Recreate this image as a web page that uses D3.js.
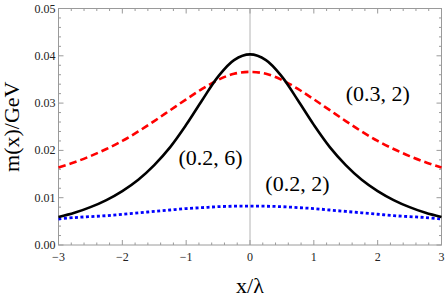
<!DOCTYPE html>
<html>
<head>
<meta charset="utf-8">
<script src="https://cdn.jsdelivr.net/npm/d3@7"></script>
<style>
body { margin: 0; background: #fff; }
</style>
</head>
<body>
<svg id="chart"></svg>
<script>
// x/lambda sample points
var xs = [-3, -2.75, -2.5, -2.25, -2, -1.75, -1.5, -1.25, -1, -0.75, -0.5, -0.25, 0,
  0.25, 0.5, 0.75, 1, 1.25, 1.5, 1.75, 2, 2.25, 2.5, 2.75, 3];

// (0.2, 6) black solid
var mBlack = [0.0059, 0.0068, 0.0080, 0.0095, 0.0114, 0.0138, 0.0169, 0.0207, 0.0254, 0.0306, 0.0356, 0.0391, 0.0403,
  0.0391, 0.0356, 0.0306, 0.0254, 0.0207, 0.0169, 0.0138, 0.0114, 0.0095, 0.0080, 0.0068, 0.0059];
// (0.3, 2) red dashed
var mRed = [0.0164, 0.0175, 0.0188, 0.0203, 0.0220, 0.0240, 0.0262, 0.0285, 0.0308, 0.0330, 0.0349, 0.0362, 0.0366,
  0.0362, 0.0349, 0.0330, 0.0308, 0.0285, 0.0262, 0.0240, 0.0220, 0.0203, 0.0188, 0.0175, 0.0164];
// (0.2, 2) blue dotted
var mBlue = [0.0055, 0.0058, 0.0060, 0.0062, 0.0065, 0.0068, 0.0071, 0.0074, 0.0077, 0.0079, 0.0081, 0.0082, 0.0082,
  0.0082, 0.0081, 0.0079, 0.0077, 0.0074, 0.0071, 0.0068, 0.0065, 0.0062, 0.0060, 0.0058, 0.0055];

var xTicks = [-3, -2, -1, 0, 1, 2, 3],
yTicks = [0, 0.01, 0.02, 0.03, 0.04, 0.05],
yTickLabels = ["0.00", "0.01", "0.02", "0.03", "0.04", "0.05"];

var labels = [
  {text: "(0.3, 2)", x: 1.5, y: 0.0304},
  {text: "(0.2, 6)", x: -1.12, y: 0.0170},
  {text: "(0.2, 2)", x: 0.24, y: 0.0115}
];

var width = 447, height = 297,
margin = {top: 8.5, right: 5.5, bottom: 52, left: 58.5},
frameColor = "#9a9a9a",
serif = "'Liberation Serif', 'DejaVu Serif', serif";

var svg = d3.select("#chart")
.attr("width", width)
.attr("height", height)
.attr("font-family", serif);

var x = d3.scaleLinear()
.domain([-3, 3])
.range([margin.left, width - margin.right]);

var y = d3.scaleLinear()
.domain([0, 0.05])
.range([height - margin.bottom, margin.top]);

// zero line
svg.append("line")
.attr("x1", x(0)).attr("x2", x(0))
.attr("y1", y(0)).attr("y2", y(0.05))
.attr("stroke", "#b4b4b4")
.attr("stroke-width", 1);

// frame ticks, all inward
var xMinor = d3.range(-3, 3.001, 0.2),
yMinor = d3.range(0, 0.05001, 0.002);

function tickLen(v, step) {
  return Math.abs(v / step - Math.round(v / step)) < 1e-6 ? 5 : 2.5;
}

var tg = svg.append("g")
.attr("stroke", frameColor)
.attr("stroke-width", 1);

xMinor.forEach(function (v) {
  var l = tickLen(v, 1);
  tg.append("line").attr("x1", x(v)).attr("x2", x(v)).attr("y1", y(0)).attr("y2", y(0) - l);
  tg.append("line").attr("x1", x(v)).attr("x2", x(v)).attr("y1", y(0.05)).attr("y2", y(0.05) + l);
});
yMinor.forEach(function (v) {
  var l = tickLen(v, 0.01);
  tg.append("line").attr("x1", x(-3)).attr("x2", x(-3) + l).attr("y1", y(v)).attr("y2", y(v));
  tg.append("line").attr("x1", x(3)).attr("x2", x(3) - l).attr("y1", y(v)).attr("y2", y(v));
});

svg.append("rect")
.attr("x", x(-3))
.attr("y", y(0.05))
.attr("width", x(3) - x(-3))
.attr("height", y(0) - y(0.05))
.attr("fill", "none")
.attr("stroke", frameColor)
.attr("stroke-width", 1);

// tick labels
svg.selectAll("text.xtick")
.data(xTicks)
.enter().append("text")
.attr("class", "xtick")
.attr("x", function (d) {return x(d);})
.attr("y", y(0) + 16)
.attr("text-anchor", "middle")
.attr("font-size", "12px")
.attr("fill", "#222")
.text(function (d) {return d < 0 ? "\u2212" + Math.abs(d) : d;});

svg.selectAll("text.ytick")
.data(yTicks)
.enter().append("text")
.attr("class", "ytick")
.attr("x", x(-3) - 3)
.attr("y", function (d) {return y(d) + 4;})
.attr("text-anchor", "end")
.attr("font-size", "12px")
.attr("fill", "#222")
.text(function (d, i) {return yTickLabels[i];});

// axis titles
svg.append("text")
.attr("x", x(0))
.attr("y", 293)
.attr("text-anchor", "middle")
.attr("font-size", "22px")
.text("x/\u03bb");

svg.append("text")
.attr("transform", "translate(19," + ((y(0) + y(0.05)) / 2) + ")rotate(-90)")
.attr("text-anchor", "middle")
.attr("font-size", "22px")
.text("m(x)/GeV");

// curves
var line = function (vals) {
  return d3.line()
  .x(function (d, i) {return x(xs[i]);})
  .y(function (d) {return y(d);})
  .curve(d3.curveCatmullRom)(vals);
};

var plot = svg.append("g");

plot.append("path")
.attr("d", line(mBlue))
.attr("fill", "none")
.attr("stroke", "#0000ff")
.attr("stroke-width", 2.8)
.attr("stroke-dasharray", "3,2.5");

plot.append("path")
.attr("d", line(mRed))
.attr("fill", "none")
.attr("stroke", "#ff0000")
.attr("stroke-width", 2.6)
.attr("stroke-dasharray", "7.5,4");

plot.append("path")
.attr("d", line(mBlack))
.attr("fill", "none")
.attr("stroke", "#000")
.attr("stroke-width", 2.6);

// curve labels
svg.selectAll("text.lab")
.data(labels)
.enter().append("text")
.attr("class", "lab")
.attr("x", function (d) {return x(d.x);})
.attr("y", function (d) {return y(d.y);})
.attr("font-size", "22px")
.text(function (d) {return d.text;});
</script>
</body>
</html>
